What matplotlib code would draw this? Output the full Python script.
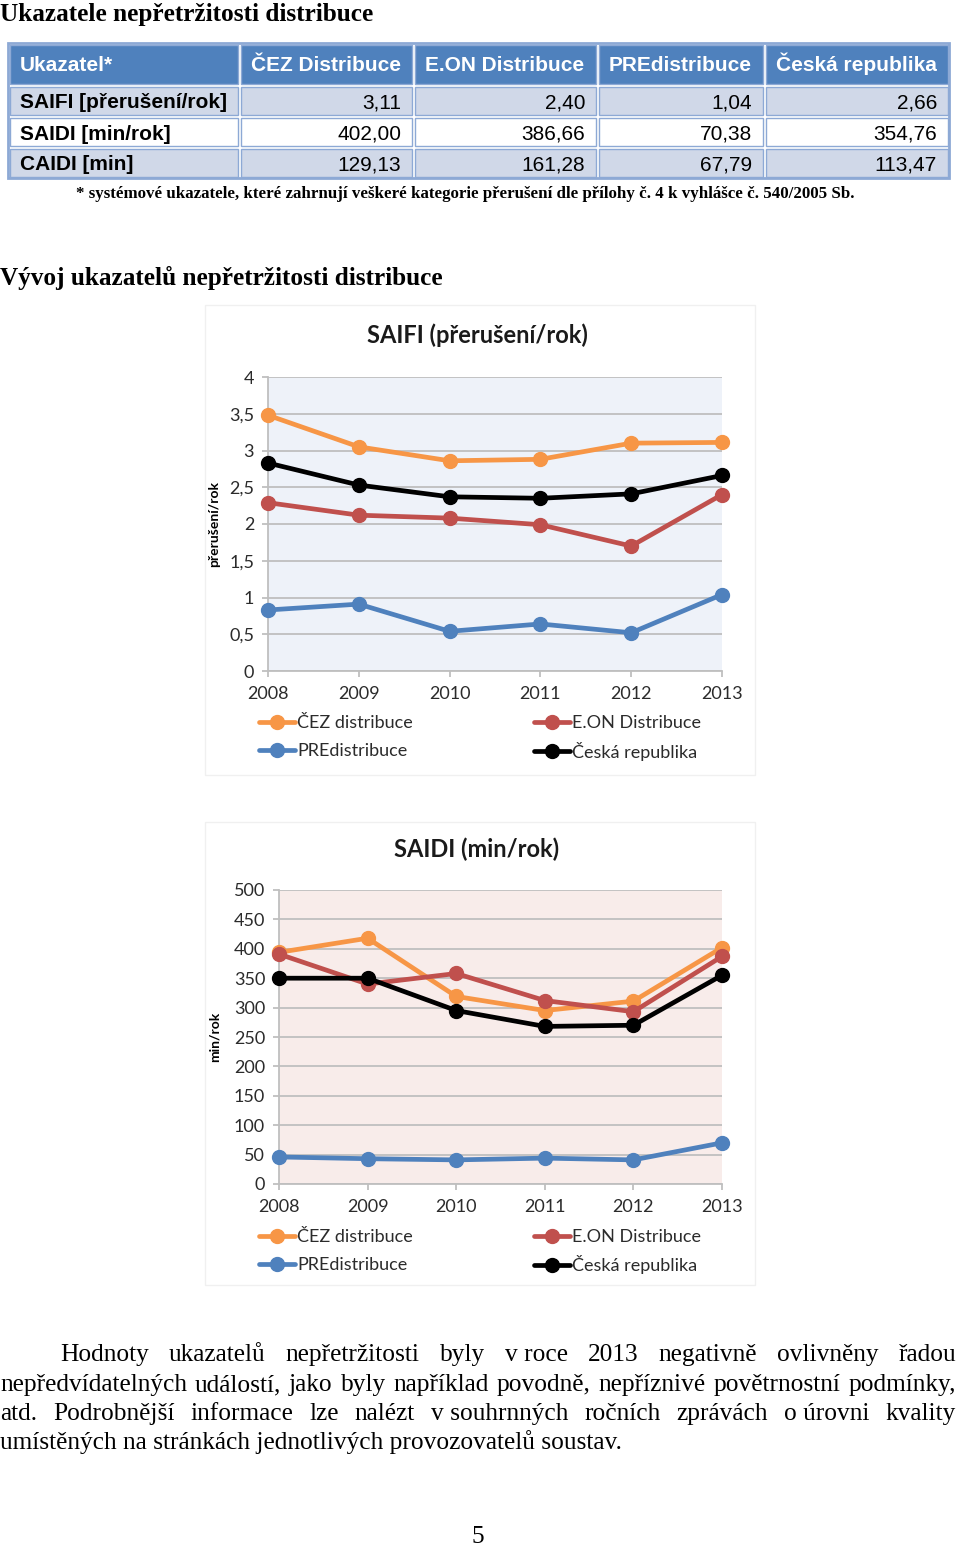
import matplotlib
matplotlib.use('Agg')
import matplotlib.pyplot as plt
from matplotlib.patches import Rectangle

W, H = 960, 1547

# Table data
companies = ['ČEZ Distribuce', 'E.ON Distribuce', 'PREdistribuce', 'Česká republika']
indicators = ['SAIFI [přerušení/rok]', 'SAIDI [min/rok]', 'CAIDI [min]']
tbl_cez = ['3,11', '402,00', '129,13']
tbl_eon = ['2,40', '386,66', '161,28']
tbl_pre = ['1,04', '70,38', '67,79']
tbl_cr = ['2,66', '354,76', '113,47']

# Chart data
years = [2008, 2009, 2010, 2011, 2012, 2013]
saifi_cez = [3.48, 3.05, 2.86, 2.88, 3.10, 3.11]
saifi_eon = [2.29, 2.12, 2.08, 1.99, 1.70, 2.40]
saifi_pre = [0.83, 0.91, 0.54, 0.64, 0.52, 1.04]
saifi_cr = [2.83, 2.53, 2.37, 2.35, 2.41, 2.66]
saidi_cez = [394, 418, 319, 295, 311, 402]
saidi_eon = [391, 340, 358, 312, 293, 387]
saidi_pre = [46, 43, 41, 44, 41, 70]
saidi_cr = [350, 350, 295, 268, 270, 355]

series_names = ['ČEZ distribuce', 'E.ON Distribuce', 'PREdistribuce', 'Česká republika']
series_colors = ['#F79646', '#C0504D', '#4F81BD', '#000000']

SERIF = 'Liberation Serif'
ARIAL = 'Liberation Sans'
CHART = 'Lato'

fig = plt.figure(figsize=(W / 100, H / 100), dpi=100)
bg = fig.add_axes([0, 0, 1, 1])
bg.set_xlim(0, W)
bg.set_ylim(H, 0)
bg.axis('off')


def fbox(x0, y0, x1, y1):
    return [x0 / W, 1 - y1 / H, (x1 - x0) / W, (y1 - y0) / H]


# headings
bg.text(0, 21, 'Ukazatele nepřetržitosti distribuce', family=SERIF, weight='bold',
        fontsize=18.2, va='baseline', ha='left')
bg.text(0, 285, 'Vývoj ukazatelů nepřetržitosti distribuce', family=SERIF, weight='bold',
        fontsize=18.2, va='baseline', ha='left')

# table
col_x = [8, 239, 413, 597, 764, 949]
row_y = [43, 85, 116, 147, 178]
edge = '#8DA9D5'
bg.add_patch(Rectangle((col_x[0], row_y[0]), col_x[-1] - col_x[0], row_y[-1] - row_y[0],
                       facecolor='white', edgecolor=edge, lw=2))
header = ['Ukazatel*'] + companies
for j in range(5):
    x0, x1 = col_x[j], col_x[j + 1]
    bg.add_patch(Rectangle((x0 + 1.5, row_y[0] + 1.5), x1 - x0 - 3, row_y[1] - row_y[0] - 3,
                           facecolor='#4F81BD', edgecolor=edge, lw=1))
    bg.text(x0 + 12, 71, header[j], color='white', family=ARIAL,
            weight='bold', fontsize=15, va='baseline', ha='left')
cols = [tbl_cez, tbl_eon, tbl_pre, tbl_cr]
for i, name in enumerate(indicators):
    y0, y1 = row_y[i + 1], row_y[i + 2]
    fc = '#D0D8E8' if i % 2 == 0 else 'white'
    for j in range(5):
        x0, x1 = col_x[j], col_x[j + 1]
        bg.add_patch(Rectangle((x0 + 1.5, y0 + 1.5), x1 - x0 - 3, y1 - y0 - 3,
                               facecolor=fc, edgecolor=edge, lw=1))
    yb = (y0 + y1) / 2 + 8
    bg.text(col_x[0] + 12, yb, name, family=ARIAL, weight='bold', fontsize=15,
            va='baseline', ha='left')
    for j, vals in enumerate(cols):
        bg.text(col_x[j + 2] - 12, yb, vals[i], family=ARIAL, fontsize=15,
                va='baseline', ha='right')

bg.text(465, 198, '* systémové ukazatele, které zahrnují veškeré kategorie přerušení dle přílohy '
        'č. 4 k vyhlášce č. 540/2005 Sb.', family=SERIF, weight='bold', fontsize=12.2,
        va='baseline', ha='center')


def line_chart(box, frame, data, ylim, step, fmt, title, title_y, ylabel, ylabel_x, face, leg_y):
    bg.add_patch(Rectangle((frame[0], frame[1]), frame[2] - frame[0], frame[3] - frame[1],
                           facecolor='white', edgecolor='#F0F0F0', lw=1))
    ax = fig.add_axes(fbox(*box))
    ax.set_facecolor(face)
    handles = []
    for vals, name, c in zip(data, series_names, series_colors):
        h, = ax.plot(years, vals, color=c, lw=3.4, marker='o', markersize=10,
                     solid_capstyle='round', label=name, zorder=3, clip_on=False)
        handles.append(h)
    ax.set_xlim(years[0], years[-1])
    ax.set_ylim(*ylim)
    ticks = []
    v = ylim[0]
    while v <= ylim[1] + 1e-9:
        ticks.append(v)
        v += step
    ax.set_yticks(ticks)
    ax.set_yticklabels([fmt(t) for t in ticks])
    ax.set_xticks(years)
    ax.grid(axis='y', color='#BFBFBF', lw=1.3)
    ax.set_axisbelow(True)
    for s in ['top', 'right']:
        ax.spines[s].set_visible(False)
    for s in ['left', 'bottom']:
        ax.spines[s].set_color('#BFBFBF')
        ax.spines[s].set_linewidth(1.3)
    ax.tick_params(axis='both', colors='#BFBFBF', labelcolor='#2b2b2b', labelsize=13,
                   width=1.3, length=4)
    ax.tick_params(axis='y', pad=6)
    ax.tick_params(axis='x', pad=7)
    for lab in ax.get_xticklabels() + ax.get_yticklabels():
        lab.set_family(CHART)
    bg.text(477, title_y, title, family=CHART, weight='bold',
            fontsize=17, va='baseline', ha='center', color='#1a1a1a')
    bg.text(ylabel_x, (box[1] + box[3]) / 2, ylabel, family=CHART, weight='bold', fontsize=10,
            rotation=90, va='center', ha='center')
    # legend: one entry per legend so the 2x2 grid lines up exactly
    spots = [(259, 0), (534, 0), (259, 1), (534, 1)]
    for k, (lx, r) in enumerate(spots):
        leg = ax.legend([handles[k]], [series_names[k]],
                        loc='center left', bbox_to_anchor=(lx / W, 1 - (leg_y + 28 * r) / H),
                        bbox_transform=fig.transFigure, frameon=False, handlelength=2.0,
                        handletextpad=0.1,
                        prop={'family': CHART, 'size': 13}, borderaxespad=0, borderpad=0)
        for t in leg.get_texts():
            t.set_color('#2b2b2b')
        if k < len(spots) - 1:
            ax.add_artist(leg)
    return ax


line_chart((268, 377, 722, 671), (205, 305, 755, 775),
           [saifi_cez, saifi_eon, saifi_pre, saifi_cr], (0, 4), 0.5,
           lambda t: ('%g' % t).replace('.', ','), 'SAIFI (přerušení/rok)', 343,
           'přerušení/rok', 214, '#EEF2F9', 723)
line_chart((279, 890, 722, 1184), (205, 822, 755, 1285),
           [saidi_cez, saidi_eon, saidi_pre, saidi_cr], (0, 500), 50,
           lambda t: '%d' % t, 'SAIDI (min/rok)', 857, 'min/rok', 215, '#F8ECEA', 1237)

# body text, justified
fig.canvas.draw()
renderer = fig.canvas.get_renderer()
BODY = 18.3
body_lines = [
    (60, 1361, 'Hodnoty ukazatelů nepřetržitosti byly v\u00a0roce 2013 negativně ovlivněny řadou', True),
    (0, 1391, 'nepředvídatelných událostí, jako byly například povodně, nepříznivé povětrnostní podmínky,', True),
    (0, 1420, 'atd. Podrobnější informace lze nalézt v\u00a0souhrnných ročních zprávách o\u00a0úrovni kvality', True),
    (0, 1449, 'umístěných na stránkách jednotlivých provozovatelů soustav.', False),
]
right_edge = 956
for x0, yb, line, just in body_lines:
    if not just:
        bg.text(x0, yb, line, family=SERIF, fontsize=BODY, va='baseline', ha='left')
        continue
    words = line.split(' ')
    texts = [bg.text(0, yb, w, family=SERIF, fontsize=BODY, va='baseline', ha='left') for w in words]
    widths = [t.get_window_extent(renderer).width for t in texts]
    gap = max((right_edge - x0 - sum(widths)) / (len(words) - 1), 2)
    x = x0
    for t, w in zip(texts, widths):
        t.set_x(x)
        x += w + gap

bg.text(478, 1543, '5', family=SERIF, fontsize=BODY, va='baseline', ha='center')

fig.savefig('out.png', dpi=100)
